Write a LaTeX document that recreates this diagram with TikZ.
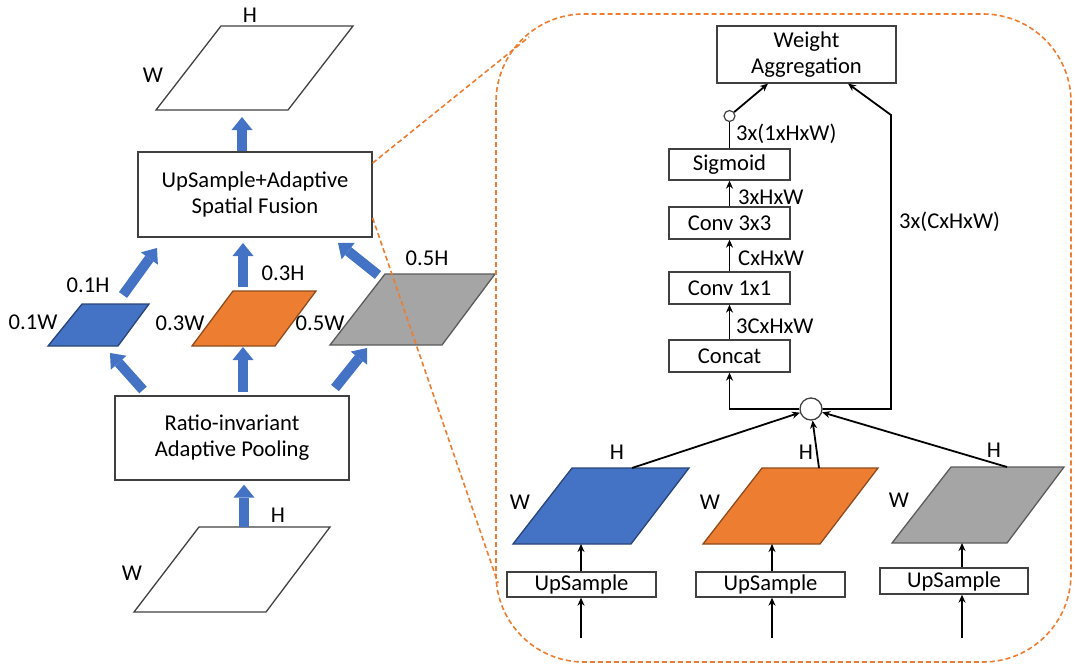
\documentclass[tikz,border=0pt]{standalone}
\usepackage{fontspec}
\setmainfont{Carlito}
\usetikzlibrary{arrows.meta,calc}
\definecolor{oblue}{HTML}{4472C4}
\definecolor{oorange}{HTML}{ED7D31}
\definecolor{ogray}{HTML}{A5A5A5}
\begin{document}
\begin{tikzpicture}[x=1pt,y=-1pt,
  font=\fontsize{22.6}{26}\selectfont,
  box/.style={draw=black!75, line width=1.3pt, fill=white, inner sep=0pt, align=center},
  pgram/.style={draw=black!75, line width=1.3pt, line join=miter},
  blk/.style={draw=oblue, line width=10pt, line cap=butt, -{Triangle[width=21pt,length=13pt,line width=0pt]}},
  arr/.style={draw=black, line width=1.8pt, -{Stealth[length=8pt,width=7pt]}},
  plain/.style={draw=black, line width=1.8pt},
  dsh/.style={draw=oorange, line width=1.6pt, dash pattern=on 5pt off 3pt},
  lbl/.style={inner sep=0pt}
]
\useasboundingbox (0,0) rectangle (1075,666);

% ---------------- left panel ----------------
% top output map
\draw[pgram] (221,26) -- (353,26) -- (288,110) -- (156,110) -- cycle;
\node[lbl] (tH) at (250,15) {H};
\node[lbl] (tW) at (153,75) {W};
\coordinate (topP) at (242,117);

\node[box, minimum width=234pt, minimum height=85pt] (usaf) at (255,194.5) {UpSample+Adaptive\\Spatial Fusion};
\draw[blk] (usaf.north) ++(-13pt,0) coordinate (usafTop) -- (topP);

% pooled maps
\draw[pgram, fill=oblue, draw=oblue!60!black] (82,304) -- (149,304) -- (118,346) -- (48,346) -- cycle;
\draw[pgram, fill=oorange, draw=oorange!60!black] (233,291) -- (316,291) -- (275,346) -- (192,346) -- cycle;
\draw[pgram, fill=ogray, draw=ogray!55!black] (385,274) -- (495,274) -- (442,345) -- (330,345) -- cycle;

\node[lbl] (l1H) at (88,285) {0.1H};
\node[lbl] (l3H) at (283,273) {0.3H};
\node[lbl] (l5H) at (427,258) {0.5H};
\node[lbl] (l1W) at (33,322) {0.1W};
\node[lbl] (l3W) at (180,323) {0.3W};
\node[lbl] (l5W) at (320,323) {0.5W};

\coordinate (bTop) at (123,295);
\coordinate (oTop) at (243,287);
\coordinate (gTop) at (378,275);
\coordinate (u1) at (157,248);
\coordinate (u2) at (243,243);
\coordinate (u3) at (338,243);
\draw[blk] (bTop) -- (u1);
\draw[blk] (oTop) -- (u2);
\draw[blk] (gTop) -- (u3);

\node[box, minimum width=234pt, minimum height=84pt] (rip) at (232,438) {Ratio-invariant\\Adaptive Pooling};

\coordinate (r1) at (143,390);
\coordinate (r2) at (243,392);
\coordinate (r3) at (335,388);
\coordinate (bBot) at (110,353);
\coordinate (oBot) at (243,347);
\coordinate (gBot) at (367,348);
\draw[blk] (r1) -- (bBot);
\draw[blk] (r2) -- (oBot);
\draw[blk] (r3) -- (gBot);

% input map
\draw[pgram] (199,527) -- (330,527) -- (266,612) -- (134,612) -- cycle;
\node[lbl] (iH) at (278,515) {H};
\node[lbl] (iW) at (132,573) {W};
\coordinate (inTop) at (244,527);
\draw[blk] (inTop) -- ([xshift=12pt,yshift=-4pt]rip.south);

% zoom lines
\coordinate (z1) at (529,37);
\coordinate (z2) at (498,583);
\draw[dsh] ([yshift=31.5pt]usaf.east) -- (z1);
\draw[dsh] ([yshift=-23.5pt]usaf.east) -- (z2);

% ---------------- right panel ----------------
\draw[dsh, rounded corners=88pt] (496,14) rectangle (1071,662);

\node[box, minimum width=179pt, minimum height=57pt] (wa) at (806.5,54.5) {Weight\\Aggregation};
\node[box, minimum width=121pt, minimum height=31pt] (sig) at (729.5,164.5) {Sigmoid};
\node[box, minimum width=121pt, minimum height=32pt] (c33) at (729.5,223) {Conv 3x3};
\node[box, minimum width=121pt, minimum height=32pt] (c11) at (729.5,288) {Conv 1x1};
\node[box, minimum width=121pt, minimum height=32pt] (cat) at (729.5,356) {Concat};

\node[draw=black!75, line width=1.2pt, circle, fill=white, minimum size=11pt, inner sep=0pt] (c1) at (729.5,116) {};
\node[draw=black!75, line width=1.3pt, circle, fill=white, minimum size=22pt, inner sep=0pt] (c2) at (811,409) {};

\draw[plain] (sig.north) -- (c1.south);
\draw[arr] (c1) -- ([xshift=-38.5pt]wa.south);
\draw[arr] (c33.north) -- (sig.south);
\draw[arr] (c11.north) -- (c33.south);
\draw[arr] (cat.north) -- (c11.south);
\draw[arr] (c2.west) -| (cat.south);
\coordinate (rc1) at (891,409);
\coordinate (rc2) at (891,115);
\draw[arr] (c2.east) -- (rc1) -- (rc2) -- ([xshift=41.5pt]wa.south);

\node[lbl, anchor=west] (s1) at (736,134) {3x(1xHxW)};
\node[lbl, anchor=west] (s2) at (738,197) {3xHxW};
\node[lbl, anchor=west] (s3) at (738,258) {CxHxW};
\node[lbl, anchor=west] (s4) at (736,326) {3CxHxW};
\node[lbl, anchor=west] (s5) at (899,222) {3x(CxHxW)};

% upsampled maps
\draw[pgram, fill=oblue, draw=oblue!60!black] (572,468) -- (689,468) -- (631,544) -- (513,544) -- cycle;
\draw[pgram, fill=oorange, draw=oorange!60!black] (762,468) -- (878,468) -- (820,544) -- (703,544) -- cycle;
\draw[pgram, fill=ogray, draw=ogray!55!black] (951,467) -- (1064,467) -- (1007,543) -- (892,543) -- cycle;

\node[lbl] (bH) at (617,452) {H};
\node[lbl] (oH) at (806,452) {H};
\node[lbl] (gH) at (994,450) {H};
\node[lbl] (bW) at (520,502) {W};
\node[lbl] (oW) at (710,502) {W};
\node[lbl] (gW) at (899,500) {W};

\coordinate (pb) at (632,468);
\coordinate (po) at (819,468);
\coordinate (pg) at (1007,467);
\draw[arr] (pb) -- (c2);
\draw[arr] (po) -- (c2);
\draw[arr] (pg) -- (c2);

\node[box, minimum width=149pt, minimum height=25pt] (up1) at (581.5,584.5) {UpSample};
\node[box, minimum width=149pt, minimum height=25pt] (up2) at (770.5,584.5) {UpSample};
\node[box, minimum width=148pt, minimum height=26pt] (up3) at (954,581) {UpSample};

\coordinate (pb2) at (581,544);
\coordinate (po2) at (772,544);
\coordinate (pg2) at (962,543);
\draw[arr] (up1.north -| pb2) -- (pb2);
\draw[arr] (up2.north -| po2) -- (po2);
\draw[arr] (up3.north -| pg2) -- (pg2);

\coordinate (in1) at (581,638);
\coordinate (in2) at (772,638);
\coordinate (in3) at (962,638);
\draw[arr] (in1) -- (up1.south -| in1);
\draw[arr] (in2) -- (up2.south -| in2);
\draw[arr] (in3) -- (up3.south -| in3);
\end{tikzpicture}
\end{document}
